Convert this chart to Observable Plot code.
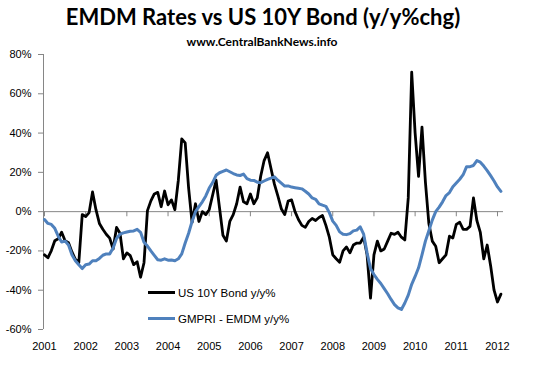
<!DOCTYPE html>
<html>
<head>
<meta charset="utf-8">
<script src="https://cdn.jsdelivr.net/npm/d3@7"></script>
<script src="https://cdn.jsdelivr.net/npm/@observablehq/plot@0.6"></script>
<style>
  html, body { margin: 0; padding: 0; background: #fff; }
  #page { position: relative; width: 539px; height: 373px; overflow: hidden; }
  #head { position: relative; height: 48px; }
  #title { position: absolute; left: 0; width: 526px; top: 6px; text-align: center;
    font: bold 22px/22px Lato, sans-serif; color: #000; white-space: nowrap; }
  #subtitle { position: absolute; left: 0; width: 524px; top: 36px; text-align: center;
    font: bold 12px/12px Lato, sans-serif; color: #000; white-space: nowrap; }
  .leg { position: absolute; left: 148px; height: 14px; font: 11.5px/14px "Liberation Sans", Arial, sans-serif; color: #000; white-space: nowrap; }
  .leg .sw { display: inline-block; width: 27px; height: 0; border-top: 3px solid #000; vertical-align: middle; margin-right: 3px; position: relative; top: -1px; }
</style>
</head>
<body>
<div id="page">
  <div id="head">
    <div id="title">EMDM Rates vs US 10Y Bond (y/y%chg)</div>
    <div id="subtitle">www.CentralBankNews.info</div>
  </div>
  <div id="chart"></div>
  <div class="leg" style="top:286px"><span class="sw" style="border-color:#000"></span>US 10Y Bond y/y%</div>
  <div class="leg" style="top:312px"><span class="sw" style="border-color:#4F81BD"></span>GMPRI - EMDM y/y%</div>
</div>
<script>
// Monthly observations, Jan 2001 - Feb 2012
const startYear = 2001;
const years = [2001, 2002, 2003, 2004, 2005, 2006, 2007, 2008, 2009, 2010, 2011, 2012];
const yTicks = [-60, -40, -20, 0, 20, 40, 60, 80];
const seriesNames = ["US 10Y Bond y/y%", "GMPRI - EMDM y/y%"];

const us10y = [
  -22, -23.5, -19.8, -14.8, -13.8, -10.5, -14.8, -15.8, -20.5, -24.3,
  -26, -1.5, -2.5, -0.5, 10, 1, -6, -9, -11.5, -13.5,
  -19, -8, -11, -24, -21, -22.4, -27, -25.5, -33.4, -26,
  0.5, 5.5, 9, 9.8, 2.5, 10.5, 3.5, 6, 1, 16,
  37, 35, 12, -5.5, 4, -5, 0, -1.5, 1, 8.5,
  16, 2, -12, -15, -5, -1.5, 4, 12.5, 5, 4,
  9, 4, 7, 18, 26, 30, 22, 14, 8, 1.5,
  -1.5, 5.4, 6, 0, -4, -7, -8, -5, -3.5, -4.5,
  -3, -2, -7, -13, -22, -24, -25.8, -20, -18, -21,
  -17, -16, -16, -13, -22, -44, -22, -15, -20, -19,
  -15, -11, -11.6, -10.5, -13, -14.4, 7, 71, 40, 18,
  43, 15, -6, -15, -17.6, -26, -24, -22, -12.5, -13.4,
  -6.5, -5.4, -9, -9, -7.5, 7, -4.6, -10.6, -24, -17,
  -27.5, -40, -46, -42
];

const gmpri = [
  -4, -6, -6.5, -8.5, -12.5, -15.5, -15, -17, -22, -25,
  -27, -29, -27, -26.7, -25, -25, -23.8, -22.2, -21.5, -21.5,
  -18.5, -13.7, -11.5, -10.8, -10.4, -10, -9.8, -9, -10.5, -15.6,
  -17.5, -20, -22.3, -24.5, -24.7, -24, -24.7, -24.6, -25, -24,
  -21.5, -16, -11, -5, 0, 2.5, 5, 8, 12, 14.8,
  18.5, 19.8, 20.5, 21.2, 20.3, 19.4, 18.7, 18.4, 19.1, 16.8,
  16, 15.9, 15, 14.7, 15.6, 16.4, 17.1, 17.7, 16, 14.5,
  13, 13.1, 12.5, 12.2, 11.9, 11.6, 10.4, 9, 7, 6.3,
  4, 3.3, 2.7, -0.5, -4.8, -7, -10.3, -11.5, -11.7, -11.2,
  -9.8, -9.4, -7.7, -11.5, -21, -29, -32, -34.5, -36.6, -39.2,
  -41.8, -44.7, -47.3, -49, -49.8, -46.5, -42.5, -37, -33, -28.6,
  -22, -15, -9.7, -4.3, 0, 2.3, 5, 8.2, 9.7, 12.7,
  14.6, 16.5, 18.8, 22.9, 22.9, 23.5, 26, 25.2, 23.2, 20.9,
  18.3, 15.6, 12.6, 10.3
];

const toRows = (vals, name) => vals.map((v, i) => ({t: startYear + i / 12, v, name}));
const rowsUS = toRows(us10y, seriesNames[0]);
const rowsGM = toRows(gmpri, seriesNames[1]);

const xDomain = [2000.976, 2012.146];
const gray = "#868686";

const chart = Plot.plot({
  width: 539,
  height: 325,
  marginLeft: 43,
  marginRight: 36,
  marginTop: 6,
  marginBottom: 44,
  style: {fontFamily: "'Liberation Sans', Arial, sans-serif", fontSize: "11px", color: "#000", background: "#fff"},
  x: {domain: xDomain, label: null},
  y: {domain: [-60, 80], label: null},
  marks: [
    Plot.ruleX([xDomain[0]], {stroke: gray, strokeWidth: 1}),
    Plot.ruleY([0], {stroke: gray, strokeWidth: 1}),
    Plot.ruleX(years, {x: d => d, y1: 0, y2: -2.6, stroke: gray, strokeWidth: 1}),
    Plot.axisY({ticks: yTicks, tickSize: 5, tickPadding: 7, tickFormat: d => d + "%", stroke: gray, label: null}),
    Plot.axisX({ticks: years, tickSize: 0, tickPadding: 13, tickFormat: d => String(d), label: null}),
    Plot.lineY(rowsUS, {x: "t", y: "v", stroke: "#000", strokeWidth: 2.8, strokeLinejoin: "round"}),
    Plot.lineY(rowsGM, {x: "t", y: "v", stroke: "#4F81BD", strokeWidth: 3, strokeLinejoin: "round"})
  ]
});
document.getElementById("chart").appendChild(chart);
d3.select(chart).selectAll('g[aria-label="y-axis tick"]').attr("stroke", gray);
d3.select(chart).selectAll('g[aria-label="y-axis tick label"], g[aria-label="x-axis tick label"]').attr("fill", "#000");
</script>
</body>
</html>
